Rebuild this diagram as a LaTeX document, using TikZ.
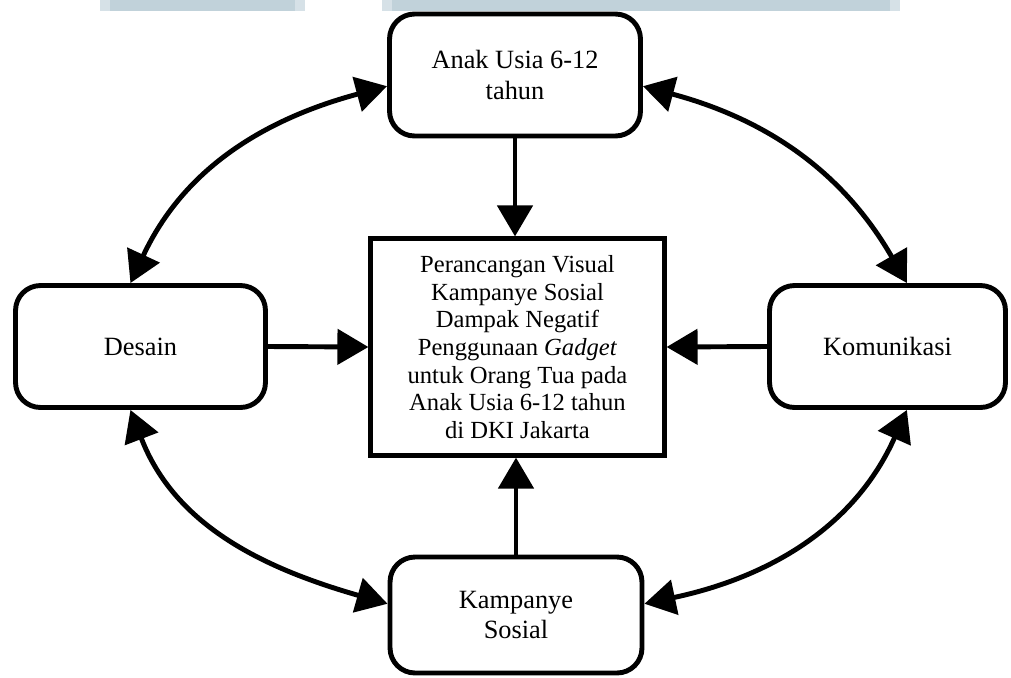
\documentclass[tikz,border=0pt]{standalone}
\usepackage{fontspec}
\setmainfont{Liberation Serif}
\usepackage{xcolor}
\usetikzlibrary{arrows.meta}
\definecolor{barmuda}{HTML}{C1D2DA}
\definecolor{barpucat}{HTML}{D6E1E7}

\begin{document}
\begin{tikzpicture}[x=0.02cm, y=0.02cm,
        kotak/.style={draw, line width=2.8pt, rounded corners=0.5cm, align=center, font=\fontsize{15}{17.5}\selectfont},
        judul/.style={draw, line width=2.4pt, align=center, font=\fontsize{14}{15.7}\selectfont},
        panah/.style={line width=2.8pt, -{Triangle[length=0.62cm, width=0.7cm]}},
        panahdua/.style={line width=2.8pt, {Triangle[length=0.62cm, width=0.7cm]}-{Triangle[length=0.62cm, width=0.7cm]}}]
        \useasboundingbox (0,0) rectangle (1011,-677);

        % strip at the top
        \fill[barpucat] (100,0) rectangle (305,-11);
        \fill[barmuda] (110,0) rectangle (295,-11);
        \fill[barpucat] (382,0) rectangle (900,-11);
        \fill[barmuda] (392,0) rectangle (890,-11);

        \node[kotak, minimum width=5.02cm, minimum height=2.44cm] (anak) at (515,-75) {Anak Usia 6-12\\tahun};
        \node[kotak, minimum width=5.0cm, minimum height=2.44cm] (desain) at (140.5,-346.5) {Desain};
        \node[kotak, minimum width=4.72cm, minimum height=2.44cm] (komunikasi) at (887.5,-346.5) {Komunikasi};
        \node[kotak, minimum width=5.04cm, minimum height=2.32cm] (kampanye) at (516,-615) {Kampanye\\Sosial};
        \node[judul, minimum width=5.88cm, minimum height=4.34cm] (pusat) at (517.5,-347) {Perancangan Visual\\Kampanye Sosial\\Dampak Negatif\\Penggunaan \textit{Gadget}\\untuk Orang Tua pada\\Anak Usia 6-12 tahun\\di DKI Jakarta};

        \draw[panah] (anak.south) -- (anak.south |- pusat.north);
        \draw[panah] (desain.east) -- (pusat.west);
        \draw[panah] (komunikasi.west) -- (pusat.east);
        \draw[panah] (kampanye.north) -- (kampanye.north |- pusat.south);

        \draw[panahdua] (desain.99) to[out=65, in=195] (anak.185);
        \draw[panahdua] (anak.-5) to[out=-15, in=120] (komunikasi.73);
        \draw[panahdua] (desain.261) to[out=-69, in=164] (kampanye.175);
        \draw[panahdua] (komunikasi.287) to[out=-114, in=12] (kampanye.5);
\end{tikzpicture}
\end{document}
